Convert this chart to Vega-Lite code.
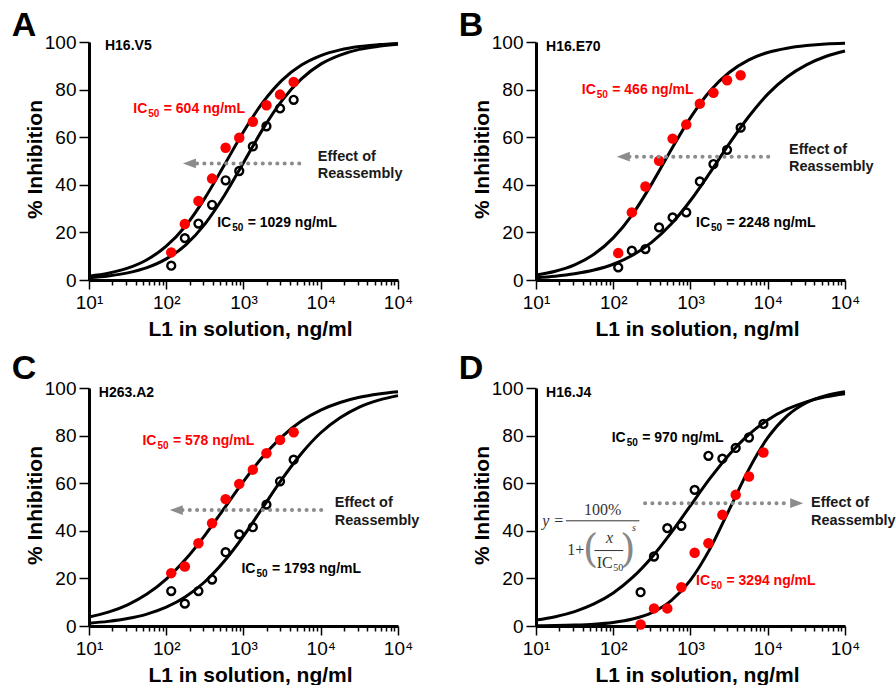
{
 "$schema": "https://vega.github.io/schema/vega-lite/v6.json",
 "padding": {"left": 11, "top": 7, "right": 0, "bottom": 0},
 "background": "white",
 "config": {"font": "Liberation Sans", "view": {"stroke": null}, "axis": {"grid": false}, "headerFacet": {"labels": false, "title": null, "labelFontSize": 1, "labelColor": "white", "labelPadding": 0}, "header": {"labels": false, "title": null}},
 "data": {"values": [
  {"k":"c","p":"A","s":"after","x":10,"y":1.63},{"k":"c","p":"A","s":"after","x":17.78,"y":2.86},{"k":"c","p":"A","s":"after","x":31.62,"y":4.97},{"k":"c","p":"A","s":"after","x":56.23,"y":8.52},{"k":"c","p":"A","s":"after","x":100,"y":14.2},{"k":"c","p":"A","s":"after","x":177.8,"y":22.7},{"k":"c","p":"A","s":"after","x":316.2,"y":34.4},{"k":"c","p":"A","s":"after","x":562.3,"y":48.2},{"k":"c","p":"A","s":"after","x":1000,"y":62.3},{"k":"c","p":"A","s":"after","x":1778,"y":74.6},{"k":"c","p":"A","s":"after","x":3162,"y":84.0},{"k":"c","p":"A","s":"after","x":5623,"y":90.3},{"k":"c","p":"A","s":"after","x":10000,"y":94.3},{"k":"c","p":"A","s":"after","x":17783,"y":96.7},{"k":"c","p":"A","s":"after","x":31623,"y":98.1},{"k":"c","p":"A","s":"after","x":56234,"y":98.9},{"k":"c","p":"A","s":"after","x":100000,"y":99.4},
  {"k":"c","p":"A","s":"before","x":10,"y":0.96},{"k":"c","p":"A","s":"before","x":17.78,"y":1.70},{"k":"c","p":"A","s":"before","x":31.62,"y":2.99},{"k":"c","p":"A","s":"before","x":56.23,"y":5.19},{"k":"c","p":"A","s":"before","x":100,"y":8.87},{"k":"c","p":"A","s":"before","x":177.8,"y":14.7},{"k":"c","p":"A","s":"before","x":316.2,"y":23.5},{"k":"c","p":"A","s":"before","x":562.3,"y":35.4},{"k":"c","p":"A","s":"before","x":1000,"y":49.3},{"k":"c","p":"A","s":"before","x":1778,"y":63.4},{"k":"c","p":"A","s":"before","x":3162,"y":75.5},{"k":"c","p":"A","s":"before","x":5623,"y":84.5},{"k":"c","p":"A","s":"before","x":10000,"y":90.7},{"k":"c","p":"A","s":"before","x":17783,"y":94.5},{"k":"c","p":"A","s":"before","x":31623,"y":96.9},{"k":"c","p":"A","s":"before","x":56234,"y":98.2},{"k":"c","p":"A","s":"before","x":100000,"y":99.0},
  {"k":"c","p":"B","s":"after","x":10,"y":2.10},{"k":"c","p":"B","s":"after","x":17.78,"y":3.68},{"k":"c","p":"B","s":"after","x":31.62,"y":6.36},{"k":"c","p":"B","s":"after","x":56.23,"y":10.8},{"k":"c","p":"B","s":"after","x":100,"y":17.7},{"k":"c","p":"B","s":"after","x":177.8,"y":27.6},{"k":"c","p":"B","s":"after","x":316.2,"y":40.5},{"k":"c","p":"B","s":"after","x":562.3,"y":54.7},{"k":"c","p":"B","s":"after","x":1000,"y":68.2},{"k":"c","p":"B","s":"after","x":1778,"y":79.3},{"k":"c","p":"B","s":"after","x":3162,"y":87.2},{"k":"c","p":"B","s":"after","x":5623,"y":92.4},{"k":"c","p":"B","s":"after","x":10000,"y":95.6},{"k":"c","p":"B","s":"after","x":17783,"y":97.4},{"k":"c","p":"B","s":"after","x":31623,"y":98.5},{"k":"c","p":"B","s":"after","x":56234,"y":99.2},{"k":"c","p":"B","s":"after","x":100000,"y":99.5},
  {"k":"c","p":"B","s":"before","x":10,"y":0.99},{"k":"c","p":"B","s":"before","x":17.78,"y":1.61},{"k":"c","p":"B","s":"before","x":31.62,"y":2.60},{"k":"c","p":"B","s":"before","x":56.23,"y":4.17},{"k":"c","p":"B","s":"before","x":100,"y":6.62},{"k":"c","p":"B","s":"before","x":177.8,"y":10.4},{"k":"c","p":"B","s":"before","x":316.2,"y":15.9},{"k":"c","p":"B","s":"before","x":562.3,"y":23.5},{"k":"c","p":"B","s":"before","x":1000,"y":33.4},{"k":"c","p":"B","s":"before","x":1778,"y":45.0},{"k":"c","p":"B","s":"before","x":3162,"y":57.2},{"k":"c","p":"B","s":"before","x":5623,"y":68.5},{"k":"c","p":"B","s":"before","x":10000,"y":78.1},{"k":"c","p":"B","s":"before","x":17783,"y":85.3},{"k":"c","p":"B","s":"before","x":31623,"y":90.4},{"k":"c","p":"B","s":"before","x":56234,"y":93.9},{"k":"c","p":"B","s":"before","x":100000,"y":96.2},
  {"k":"c","p":"C","s":"after","x":10,"y":3.75},{"k":"c","p":"C","s":"after","x":17.78,"y":5.81},{"k":"c","p":"C","s":"after","x":31.62,"y":8.90},{"k":"c","p":"C","s":"after","x":56.23,"y":13.4},{"k":"c","p":"C","s":"after","x":100,"y":19.7},{"k":"c","p":"C","s":"after","x":177.8,"y":28.0},{"k":"c","p":"C","s":"after","x":316.2,"y":38.1},{"k":"c","p":"C","s":"after","x":562.3,"y":49.4},{"k":"c","p":"C","s":"after","x":1000,"y":60.8},{"k":"c","p":"C","s":"after","x":1778,"y":71.1},{"k":"c","p":"C","s":"after","x":3162,"y":79.6},{"k":"c","p":"C","s":"after","x":5623,"y":86.1},{"k":"c","p":"C","s":"after","x":10000,"y":90.7},{"k":"c","p":"C","s":"after","x":17783,"y":93.9},{"k":"c","p":"C","s":"after","x":31623,"y":96.1},{"k":"c","p":"C","s":"after","x":56234,"y":97.5},{"k":"c","p":"C","s":"after","x":100000,"y":98.4},
  {"k":"c","p":"C","s":"before","x":10,"y":1.20},{"k":"c","p":"C","s":"before","x":17.78,"y":1.94},{"k":"c","p":"C","s":"before","x":31.62,"y":3.13},{"k":"c","p":"C","s":"before","x":56.23,"y":5.01},{"k":"c","p":"C","s":"before","x":100,"y":7.91},{"k":"c","p":"C","s":"before","x":177.8,"y":12.3},{"k":"c","p":"C","s":"before","x":316.2,"y":18.6},{"k":"c","p":"C","s":"before","x":562.3,"y":27.2},{"k":"c","p":"C","s":"before","x":1000,"y":37.8},{"k":"c","p":"C","s":"before","x":1778,"y":49.8},{"k":"c","p":"C","s":"before","x":3162,"y":61.8},{"k":"c","p":"C","s":"before","x":5623,"y":72.5},{"k":"c","p":"C","s":"before","x":10000,"y":81.2},{"k":"c","p":"C","s":"before","x":17783,"y":87.5},{"k":"c","p":"C","s":"before","x":31623,"y":92.0},{"k":"c","p":"C","s":"before","x":56234,"y":94.9},{"k":"c","p":"C","s":"before","x":100000,"y":96.8},
  {"k":"c","p":"D","s":"before","x":10,"y":2.51},{"k":"c","p":"D","s":"before","x":17.78,"y":3.92},{"k":"c","p":"D","s":"before","x":31.62,"y":6.06},{"k":"c","p":"D","s":"before","x":56.23,"y":9.28},{"k":"c","p":"D","s":"before","x":100,"y":13.9},{"k":"c","p":"D","s":"before","x":177.8,"y":20.4},{"k":"c","p":"D","s":"before","x":316.2,"y":28.9},{"k":"c","p":"D","s":"before","x":562.3,"y":39.2},{"k":"c","p":"D","s":"before","x":1000,"y":50.6},{"k":"c","p":"D","s":"before","x":1778,"y":61.9},{"k":"c","p":"D","s":"before","x":3162,"y":72.0},{"k":"c","p":"D","s":"before","x":5623,"y":80.3},{"k":"c","p":"D","s":"before","x":10000,"y":86.6},{"k":"c","p":"D","s":"before","x":17783,"y":91.1},{"k":"c","p":"D","s":"before","x":31623,"y":94.2},{"k":"c","p":"D","s":"before","x":56234,"y":96.3},{"k":"c","p":"D","s":"before","x":100000,"y":97.6},
  {"k":"c","p":"D","s":"after","x":10,"y":0.10},{"k":"c","p":"D","s":"after","x":17.78,"y":0.19},{"k":"c","p":"D","s":"after","x":31.62,"y":0.38},{"k":"c","p":"D","s":"after","x":56.23,"y":0.75},{"k":"c","p":"D","s":"after","x":100,"y":1.48},{"k":"c","p":"D","s":"after","x":177.8,"y":2.92},{"k":"c","p":"D","s":"after","x":316.2,"y":5.66},{"k":"c","p":"D","s":"after","x":562.3,"y":10.7},{"k":"c","p":"D","s":"after","x":1000,"y":19.3},{"k":"c","p":"D","s":"after","x":1778,"y":32.3},{"k":"c","p":"D","s":"after","x":3162,"y":48.8},{"k":"c","p":"D","s":"after","x":5623,"y":65.5},{"k":"c","p":"D","s":"after","x":10000,"y":79.1},{"k":"c","p":"D","s":"after","x":17783,"y":88.3},{"k":"c","p":"D","s":"after","x":31623,"y":93.8},{"k":"c","p":"D","s":"after","x":56234,"y":96.8},{"k":"c","p":"D","s":"after","x":100000,"y":98.4},

  {"k":"pt","p":"A","s":"after","x":116,"y":11.6},{"k":"pt","p":"A","s":"after","x":174,"y":23.5},{"k":"pt","p":"A","s":"after","x":261,"y":33.2},{"k":"pt","p":"A","s":"after","x":392,"y":42.6},{"k":"pt","p":"A","s":"after","x":587,"y":55.6},{"k":"pt","p":"A","s":"after","x":881,"y":59.8},{"k":"pt","p":"A","s":"after","x":1321,"y":66.5},{"k":"pt","p":"A","s":"after","x":1982,"y":73.4},{"k":"pt","p":"A","s":"after","x":2973,"y":77.9},{"k":"pt","p":"A","s":"after","x":4459,"y":83.2},
  {"k":"pt","p":"A","s":"before","x":116,"y":6.0},{"k":"pt","p":"A","s":"before","x":174,"y":17.6},{"k":"pt","p":"A","s":"before","x":261,"y":23.7},{"k":"pt","p":"A","s":"before","x":392,"y":31.6},{"k":"pt","p":"A","s":"before","x":587,"y":41.9},{"k":"pt","p":"A","s":"before","x":881,"y":45.8},{"k":"pt","p":"A","s":"before","x":1321,"y":56.1},{"k":"pt","p":"A","s":"before","x":1982,"y":64.6},{"k":"pt","p":"A","s":"before","x":2973,"y":72.1},{"k":"pt","p":"A","s":"before","x":4459,"y":75.7},
  {"k":"pt","p":"B","s":"after","x":116,"y":11.3},{"k":"pt","p":"B","s":"after","x":174,"y":28.4},{"k":"pt","p":"B","s":"after","x":261,"y":39.3},{"k":"pt","p":"B","s":"after","x":392,"y":50.1},{"k":"pt","p":"B","s":"after","x":587,"y":59.4},{"k":"pt","p":"B","s":"after","x":881,"y":65.3},{"k":"pt","p":"B","s":"after","x":1321,"y":74.1},{"k":"pt","p":"B","s":"after","x":1982,"y":78.7},{"k":"pt","p":"B","s":"after","x":2973,"y":83.9},{"k":"pt","p":"B","s":"after","x":4459,"y":86.0},
  {"k":"pt","p":"B","s":"before","x":116,"y":5.3},{"k":"pt","p":"B","s":"before","x":174,"y":12.3},{"k":"pt","p":"B","s":"before","x":261,"y":13.0},{"k":"pt","p":"B","s":"before","x":392,"y":22.1},{"k":"pt","p":"B","s":"before","x":587,"y":26.3},{"k":"pt","p":"B","s":"before","x":881,"y":28.4},{"k":"pt","p":"B","s":"before","x":1321,"y":41.4},{"k":"pt","p":"B","s":"before","x":1982,"y":48.7},{"k":"pt","p":"B","s":"before","x":2973,"y":54.7},{"k":"pt","p":"B","s":"before","x":4459,"y":64.0},
  {"k":"pt","p":"C","s":"after","x":116,"y":22.2},{"k":"pt","p":"C","s":"after","x":174,"y":25.0},{"k":"pt","p":"C","s":"after","x":261,"y":34.8},{"k":"pt","p":"C","s":"after","x":392,"y":43.2},{"k":"pt","p":"C","s":"after","x":587,"y":53.3},{"k":"pt","p":"C","s":"after","x":881,"y":59.7},{"k":"pt","p":"C","s":"after","x":1321,"y":65.7},{"k":"pt","p":"C","s":"after","x":1982,"y":72.6},{"k":"pt","p":"C","s":"after","x":2973,"y":78.2},{"k":"pt","p":"C","s":"after","x":4459,"y":81.4},
  {"k":"pt","p":"C","s":"before","x":116,"y":14.7},{"k":"pt","p":"C","s":"before","x":174,"y":9.4},{"k":"pt","p":"C","s":"before","x":261,"y":14.7},{"k":"pt","p":"C","s":"before","x":392,"y":19.5},{"k":"pt","p":"C","s":"before","x":587,"y":31.0},{"k":"pt","p":"C","s":"before","x":881,"y":38.5},{"k":"pt","p":"C","s":"before","x":1321,"y":41.5},{"k":"pt","p":"C","s":"before","x":1982,"y":51.0},{"k":"pt","p":"C","s":"before","x":2973,"y":60.8},{"k":"pt","p":"C","s":"before","x":4459,"y":69.9},
  {"k":"pt","p":"D","s":"before","x":226,"y":14.2},{"k":"pt","p":"D","s":"before","x":337,"y":29.2},{"k":"pt","p":"D","s":"before","x":501,"y":41.1},{"k":"pt","p":"D","s":"before","x":762,"y":42.1},{"k":"pt","p":"D","s":"before","x":1132,"y":57.2},{"k":"pt","p":"D","s":"before","x":1706,"y":71.5},{"k":"pt","p":"D","s":"before","x":2588,"y":70.3},{"k":"pt","p":"D","s":"before","x":3846,"y":74.8},{"k":"pt","p":"D","s":"before","x":5715,"y":79.2},{"k":"pt","p":"D","s":"before","x":8790,"y":84.9},
  {"k":"pt","p":"D","s":"after","x":226,"y":0.6},{"k":"pt","p":"D","s":"after","x":337,"y":7.4},{"k":"pt","p":"D","s":"after","x":501,"y":7.4},{"k":"pt","p":"D","s":"after","x":762,"y":16.3},{"k":"pt","p":"D","s":"after","x":1132,"y":30.8},{"k":"pt","p":"D","s":"after","x":1706,"y":34.8},{"k":"pt","p":"D","s":"after","x":2588,"y":46.7},{"k":"pt","p":"D","s":"after","x":3846,"y":55.1},{"k":"pt","p":"D","s":"after","x":5715,"y":62.8},{"k":"pt","p":"D","s":"after","x":8790,"y":72.9},

  {"k":"arrow","p":"A","x":250,"x2":5860,"y":49.0},
  {"k":"arrow","p":"B","x":162,"x2":12190,"y":51.8},
  {"k":"arrow","p":"C","x":162,"x2":12190,"y":48.7},
  {"k":"arrow","p":"D","x":258,"x2":19400,"y":51.6},
  {"k":"head","p":"A","x":199.5,"y":49.0,"dir":"left"},
  {"k":"head","p":"B","x":135,"y":51.8,"dir":"left"},
  {"k":"head","p":"C","x":135,"y":48.7,"dir":"left"},
  {"k":"head","p":"D","x":23700,"y":51.6,"dir":"right"},

  {"k":"letter","p":"A","x":1,"y":102.6,"t":"A"},
  {"k":"letter","p":"B","x":1,"y":102.6,"t":"B"},
  {"k":"letter","p":"C","x":1,"y":103.8,"t":"C"},
  {"k":"letter","p":"D","x":1,"y":103.8,"t":"D"},
  {"k":"name","p":"A","x":16.1,"y":96.8,"t":"H16.V5"},
  {"k":"name","p":"B","x":13.5,"y":96.3,"t":"H16.E70"},
  {"k":"name","p":"C","x":13.4,"y":96.3,"t":"H263.A2"},
  {"k":"name","p":"D","x":13.5,"y":96.2,"t":"H16.J4"},
  {"k":"ic","p":"A","s":"after","x":37.4,"y":70.3,"t":"= 604 ng/mL"},
  {"k":"ic","p":"A","s":"before","x":457,"y":22.3,"t":"= 1029 ng/mL"},
  {"k":"ic","p":"B","s":"after","x":39.1,"y":78.0,"t":"= 466 ng/mL"},
  {"k":"ic","p":"B","s":"before","x":1178,"y":22.1,"t":"= 2248 ng/mL"},
  {"k":"ic","p":"C","s":"after","x":49.1,"y":75.9,"t":"= 578 ng/mL"},
  {"k":"ic","p":"C","s":"before","x":940,"y":22.1,"t":"= 1793 ng/mL"},
  {"k":"ic","p":"D","s":"before","x":95.5,"y":77.5,"t":"= 970 ng/mL"},
  {"k":"ic","p":"D","s":"after","x":1178,"y":17.2,"t":"= 3294 ng/mL"},
  {"k":"eff","p":"A","x":9162,"y":50.0,"t":"Effect of"},
  {"k":"eff","p":"A","x":9162,"y":42.7,"t":"Reassembly"},
  {"k":"eff","p":"B","x":18836,"y":53.1,"t":"Effect of"},
  {"k":"eff","p":"B","x":18836,"y":45.6,"t":"Reassembly"},
  {"k":"eff","p":"C","x":15170,"y":50.1,"t":"Effect of"},
  {"k":"eff","p":"C","x":15170,"y":42.4,"t":"Reassembly"},
  {"k":"eff","p":"D","x":36300,"y":50.2,"t":"Effect of"},
  {"k":"eff","p":"D","x":36300,"y":42.5,"t":"Reassembly"},

  {"k":"eq","p":"D","x":73.1,"y":46.7,"t":"100%"},
  {"k":"eq","p":"D","x":32.7,"y":29.9,"t":"1+"},
  {"k":"eqic","p":"D","x":77.5,"y":24.5,"t":"IC"},
  {"k":"eqi","p":"D","x":16.7,"y":42.1,"t":"y ="},
  {"k":"eqi","p":"D","x":89.4,"y":34.8,"t":"x"},
  {"k":"eqp","p":"D","x":51,"y":30.8,"t":"("},
  {"k":"eqp","p":"D","x":154,"y":30.8,"t":")"},
  {"k":"eqs","p":"D","x":186,"y":40.1,"t":"s"},
  {"k":"eqbar","p":"D","x":24.4,"x2":218,"y":44.2},
  {"k":"eqbar","p":"D","x":57,"x2":135,"y":31.7}
 ]},
 "facet": {"field": "p", "type": "nominal", "header": {"labels": false, "title": null, "labelFontSize": 1, "labelColor": "white", "labelPadding": 0, "titlePadding": 0}},
 "columns": 2,
 "spacing": {"row": 108, "column": 138},
 "bounds": "flush",
 "resolve": {"scale": {"x": "independent", "y": "independent"}, "axis": {"x": "independent", "y": "independent"}},
 "spec": {
  "width": 309,
  "height": 238,
  "layer": [
   {
    "transform": [{"filter": "datum.k=='c'"}],
    "mark": {"type": "line", "color": "black", "strokeWidth": 3, "interpolate": "monotone"},
    "encoding": {
     "x": {"field": "x", "type": "quantitative",
      "scale": {"type": "log", "domain": [10, 100000], "nice": false},
      "axis": {
       "values": [10,20,30,40,50,60,70,80,90,100,200,300,400,500,600,700,800,900,1000,2000,3000,4000,5000,6000,7000,8000,9000,10000,20000,30000,40000,50000,60000,70000,80000,90000,100000],
       "labelExpr": "datum.value==10?'10¹':datum.value==100?'10²':datum.value==1000?'10³':(datum.value==10000||datum.value==100000)?'10⁴':''",
       "tickSize": {"condition": {"test": "datum.value==10||datum.value==100||datum.value==1000||datum.value==10000||datum.value==100000", "value": 9}, "value": 5},
       "tickWidth": 1.5, "tickColor": "black",
       "domainWidth": 3, "domainColor": "black",
       "labelFontSize": 19, "labelColor": "black", "labelPadding": 4,
       "labelOverlap": false, "labelFlush": false,
       "title": "L1 in solution, ng/ml", "titleFontSize": 21, "titleFontWeight": "bold", "titleColor": "black",
       "titleX": 161, "titleY": 38, "titleBaseline": "top", "titleAlign": "center"
      }
     },
     "y": {"field": "y", "type": "quantitative",
      "scale": {"domain": [0, 100], "nice": false},
      "axis": {
       "values": [0,10,20,30,40,50,60,70,80,90,100],
       "labelExpr": "datum.value % 20 == 0 ? datum.label : ''",
       "tickSize": {"condition": {"test": "datum.value % 20 == 0", "value": 10}, "value": 6},
       "tickWidth": 1.5, "tickColor": "black",
       "domainWidth": 3, "domainColor": "black",
       "labelFontSize": 19, "labelColor": "black", "labelPadding": 3,
       "labelOverlap": false, "labelFlush": false,
       "title": "% Inhibition", "titleFontSize": 21, "titleFontWeight": "bold", "titleColor": "black",
       "titleX": -44, "titleY": 117, "titleAngle": 270, "titleBaseline": "bottom", "titleAlign": "center"
      }
     },
     "detail": {"field": "s"}
    }
   },
   {
    "transform": [{"filter": "datum.k=='pt' && datum.s=='before'"}],
    "mark": {"type": "point", "shape": "circle", "filled": false, "stroke": "black", "strokeWidth": 2.4, "size": 62, "opacity": 1},
    "encoding": {"x": {"field": "x", "type": "quantitative"}, "y": {"field": "y", "type": "quantitative"}}
   },
   {
    "transform": [{"filter": "datum.k=='pt' && datum.s=='after'"}],
    "mark": {"type": "point", "shape": "circle", "filled": true, "color": "#ff0000", "size": 110, "opacity": 1},
    "encoding": {"x": {"field": "x", "type": "quantitative"}, "y": {"field": "y", "type": "quantitative"}}
   },
   {
    "transform": [{"filter": "datum.k=='arrow'"}],
    "mark": {"type": "rule", "color": "#8c8c8c", "strokeWidth": 4, "strokeDash": [0.1, 7.2], "strokeCap": "round"},
    "encoding": {"x": {"field": "x", "type": "quantitative"}, "x2": {"field": "x2"}, "y": {"field": "y", "type": "quantitative"}}
   },
   {
    "transform": [{"filter": "datum.k=='head'"}],
    "mark": {"type": "point", "filled": true, "color": "#8c8c8c", "size": 169, "opacity": 1},
    "encoding": {
     "x": {"field": "x", "type": "quantitative"}, "y": {"field": "y", "type": "quantitative"},
     "shape": {"field": "dir", "type": "nominal", "scale": {"domain": ["left", "right"], "range": ["M-1,0L1,-0.75L1,0.75Z", "M1,0L-1,-0.75L-1,0.75Z"]}, "legend": null}
    }
   },
   {
    "transform": [{"filter": "datum.k=='letter'"}],
    "mark": {"type": "text", "fontSize": 34, "fontWeight": "bold", "color": "black", "align": "left", "baseline": "alphabetic"},
    "encoding": {"x": {"field": "x", "type": "quantitative"}, "y": {"field": "y", "type": "quantitative"}, "text": {"field": "t"}}
   },
   {
    "transform": [{"filter": "datum.k=='name'"}],
    "mark": {"type": "text", "fontSize": 14, "fontWeight": "bold", "color": "black", "align": "left", "baseline": "alphabetic"},
    "encoding": {"x": {"field": "x", "type": "quantitative"}, "y": {"field": "y", "type": "quantitative"}, "text": {"field": "t"}}
   },
   {
    "transform": [{"filter": "datum.k=='ic'"}],
    "mark": {"type": "text", "fontSize": 14, "fontWeight": "bold", "align": "left", "baseline": "alphabetic"},
    "encoding": {
     "x": {"field": "x", "type": "quantitative"}, "y": {"field": "y", "type": "quantitative"}, "text": {"value": "IC"},
     "color": {"field": "s", "type": "nominal", "scale": {"domain": ["before", "after"], "range": ["black", "#ff0000"]}, "legend": null}
    }
   },
   {
    "transform": [{"filter": "datum.k=='ic'"}],
    "mark": {"type": "text", "fontSize": 10, "fontWeight": "bold", "align": "left", "baseline": "alphabetic", "dx": 15, "dy": 4},
    "encoding": {
     "x": {"field": "x", "type": "quantitative"}, "y": {"field": "y", "type": "quantitative"}, "text": {"value": "50"},
     "color": {"field": "s", "type": "nominal", "legend": null}
    }
   },
   {
    "transform": [{"filter": "datum.k=='ic'"}],
    "mark": {"type": "text", "fontSize": 14, "fontWeight": "bold", "align": "left", "baseline": "alphabetic", "dx": 30.5},
    "encoding": {
     "x": {"field": "x", "type": "quantitative"}, "y": {"field": "y", "type": "quantitative"}, "text": {"field": "t"},
     "color": {"field": "s", "type": "nominal", "legend": null}
    }
   },
   {
    "transform": [{"filter": "datum.k=='eff'"}],
    "mark": {"type": "text", "fontSize": 14.5, "fontWeight": "bold", "color": "#1a1a1a", "align": "left", "baseline": "alphabetic"},
    "encoding": {"x": {"field": "x", "type": "quantitative"}, "y": {"field": "y", "type": "quantitative"}, "text": {"field": "t"}}
   },
   {
    "transform": [{"filter": "datum.k=='eq' || datum.k=='eqic'"}],
    "mark": {"type": "text", "font": "Liberation Serif", "fontSize": 16, "color": "#333", "align": "center", "baseline": "alphabetic"},
    "encoding": {"x": {"field": "x", "type": "quantitative"}, "y": {"field": "y", "type": "quantitative"}, "text": {"field": "t"}}
   },
   {
    "transform": [{"filter": "datum.k=='eqic'"}],
    "mark": {"type": "text", "font": "Liberation Serif", "fontSize": 10, "color": "#333", "align": "left", "baseline": "alphabetic", "dx": 8.5, "dy": 3},
    "encoding": {"x": {"field": "x", "type": "quantitative"}, "y": {"field": "y", "type": "quantitative"}, "text": {"value": "50"}}
   },
   {
    "transform": [{"filter": "datum.k=='eqi'"}],
    "mark": {"type": "text", "font": "Liberation Serif", "fontSize": 16, "fontStyle": "italic", "color": "#333", "align": "center", "baseline": "alphabetic"},
    "encoding": {"x": {"field": "x", "type": "quantitative"}, "y": {"field": "y", "type": "quantitative"}, "text": {"field": "t"}}
   },
   {
    "transform": [{"filter": "datum.k=='eqp'"}],
    "mark": {"type": "text", "font": "DejaVu Serif", "fontSize": 40, "fontWeight": "normal", "color": "#888", "align": "center", "baseline": "middle", "dy": -3},
    "encoding": {"x": {"field": "x", "type": "quantitative"}, "y": {"field": "y", "type": "quantitative"}, "text": {"field": "t"}}
   },
   {
    "transform": [{"filter": "datum.k=='eqs'"}],
    "mark": {"type": "text", "font": "Liberation Serif", "fontSize": 10, "fontStyle": "italic", "color": "#333", "align": "center", "baseline": "alphabetic"},
    "encoding": {"x": {"field": "x", "type": "quantitative"}, "y": {"field": "y", "type": "quantitative"}, "text": {"field": "t"}}
   },
   {
    "transform": [{"filter": "datum.k=='eqbar'"}],
    "mark": {"type": "rule", "color": "#333", "strokeWidth": 1},
    "encoding": {"x": {"field": "x", "type": "quantitative"}, "x2": {"field": "x2"}, "y": {"field": "y", "type": "quantitative"}}
   }
  ]
 }
}
